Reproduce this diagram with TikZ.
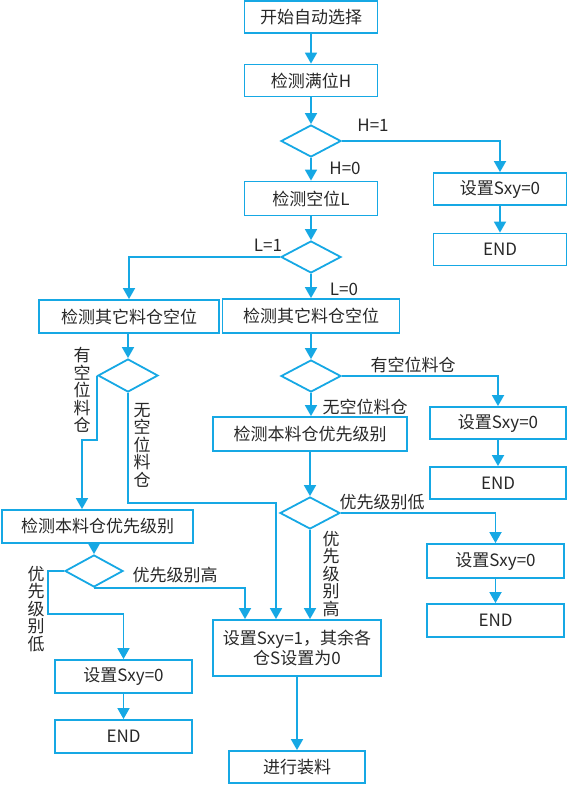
\documentclass[tikz,border=0pt]{standalone}
\usepackage{fontspec}
\setmainfont{Noto Sans CJK SC}
\usetikzlibrary{shapes.geometric,arrows.meta,calc}
\definecolor{lc}{RGB}{22,168,228}
\definecolor{tc}{RGB}{40,40,40}
\begin{document}
\begin{tikzpicture}[x=1pt,y=-1pt,
  font=\fontsize{17}{20}\selectfont, text=tc,
  box/.style={draw=lc, line width=1.8pt, rectangle, inner sep=0pt, minimum height=32pt, align=center},
  dia/.style={draw=lc, line width=1.8pt, diamond, inner sep=0pt, minimum width=60pt, minimum height=32pt, aspect=1.875},
  arr/.style={draw=lc, line width=1.8pt, -{Triangle[width=12pt,length=11pt]}},
  lbl/.style={inner sep=0pt},
  vlbl/.style={inner sep=0pt, align=center, font=\fontsize{17}{17.5}\selectfont}]
\useasboundingbox (0,0) rectangle (569,785);
% main column
\node[box, minimum width=133pt] (B1) at (311,17) {开始自动选择};
\node[box, minimum width=133pt] (B2) at (311,80.5) {检测满位H};
\node[dia] (D1) at (311,141) {};
\node[box, minimum width=133pt] (RB1) at (500,189) {设置Sxy=0};
\node[box, minimum width=133pt] (RE1) at (500,249.5) {END};
\node[box, minimum width=133pt, minimum height=34pt] (B3) at (311,198.5) {检测空位L};
\node[dia] (D2) at (311,257) {};
\node[box, minimum width=180pt, minimum height=33pt] (LB1) at (129,316.5) {检测其它料仓空位};
\node[box, minimum width=177pt, minimum height=34pt] (RB2) at (311,316) {检测其它料仓空位};
\node[dia, minimum height=33pt] (D3) at (128,375.5) {};
\node[dia] (D4) at (311,376) {};
\node[box, minimum width=136pt] (RB3) at (498,423) {设置Sxy=0};
\node[box, minimum width=136pt] (RE3) at (498,483) {END};
\node[box, minimum width=194pt, minimum height=34pt] (B5) at (310,434) {检测本料仓优先级别};
\node[dia] (D5) at (310,513) {};
\node[box, minimum width=137pt, minimum height=34pt] (RB4) at (495.5,561) {设置Sxy=0};
\node[box, minimum width=137pt, minimum height=33pt] (RE4) at (495.5,620.5) {END};
\node[box, minimum width=191pt, minimum height=33pt] (LB2) at (97.5,526.5) {检测本料仓优先级别};
\node[dia, minimum width=58pt] (D6) at (94,571) {};
\node[box, minimum width=137pt, minimum height=33pt] (LB3) at (123.5,676.5) {设置Sxy=0};
\node[box, minimum width=137pt, minimum height=33pt] (LE3) at (123.5,736.5) {END};
\node[box, minimum width=168pt, minimum height=56pt, font=\fontsize{17}{20}\selectfont] (M) at (297,648) {设置Sxy=1，其余各\\仓S设置为0};
\node[box, minimum width=136pt] (last) at (297,767) {进行装料};
% helper coordinates
\coordinate (c1) at (82,440);
\coordinate (c2) at (276,503);
\coordinate (c3) at (245,0);
\coordinate (c4) at (48,614);
% connectors
\draw[arr] (B1) -- (B2);
\draw[arr] (B2) -- (D1);
\draw[arr] (D1.east) -| (RB1.north);
\draw[arr] (RB1) -- (RE1);
\draw[arr] (D1) -- (B3);
\draw[arr] (B3) -- (D2);
\draw[arr] (D2.west) -| (LB1.north);
\draw[arr] (D2) -- (RB2);
\draw[arr] (LB1.south -| D3.north) -- (D3.north);
\draw[arr] (D3.west) |- (c1) -- (c1 |- LB2.north);
\draw[arr] (D3.south) |- (c2) -- (c2 |- M.north);
\draw[arr] (RB2) -- (D4);
\draw[arr] (D4.east) -| (RB3.north);
\draw[arr] (RB3) -- (RE3);
\draw[arr] (D4.south) -- (D4.south |- B5.north);
\draw[arr] (B5) -- (D5);
\draw[arr] (D5.east) -| (RB4.north);
\draw[arr] (RB4) -- (RE4);
\draw[arr] (D5.south) -- (D5.south |- M.north);
\draw[arr] (LB2.south -| D6.north) -- (D6.north);
\draw[arr] (D6.south) -| (c3 |- M.north);
\draw[arr] (D6.west) -| (c4) -| (LB3.north);
\draw[arr] (LB3) -- (LE3);
\draw[arr] (M) -- (last);
% labels
\node[lbl] (tH1) at (373,125) {H=1};
\node[lbl] (tH0) at (345,168) {H=0};
\node[lbl] (tL1) at (268,245) {L=1};
\node[lbl] (tL0) at (344,289) {L=0};
\node[vlbl] (tYL) at (82,390) {有\\空\\位\\料\\仓};
\node[vlbl] (tWL) at (142,445) {无\\空\\位\\料\\仓};
\node[lbl] (tYM) at (413,365) {有空位料仓};
\node[lbl] (tWM) at (365,407) {无空位料仓};
\node[lbl] (tDM) at (382,502) {优先级别低};
\node[vlbl] (tGM) at (331,574) {优\\先\\级\\别\\高};
\node[lbl] (tGL) at (175,575) {优先级别高};
\node[vlbl] (tDL) at (36,609) {优\\先\\级\\别\\低};
\end{tikzpicture}
\end{document}
